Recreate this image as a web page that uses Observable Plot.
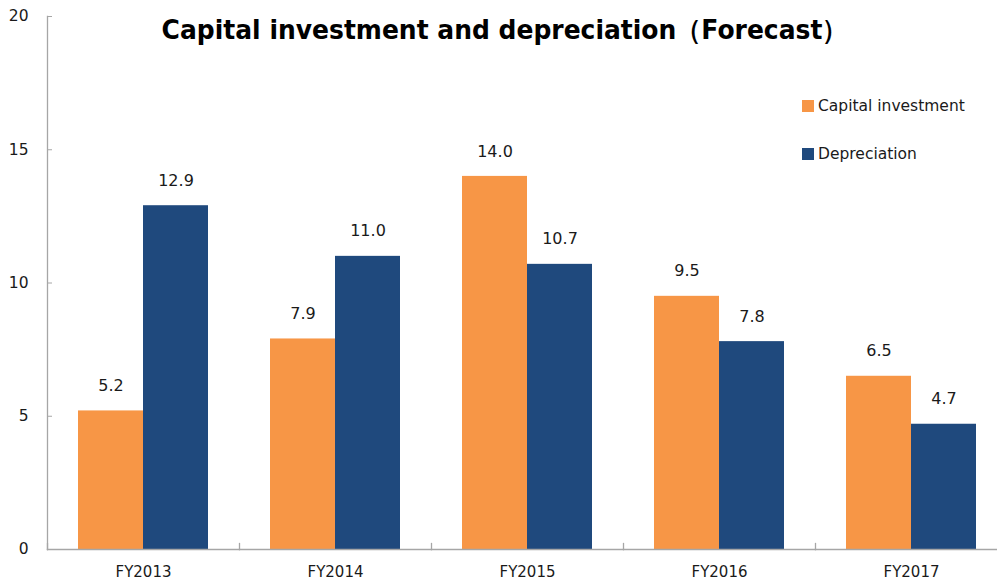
<!DOCTYPE html>
<html>
<head>
<meta charset="utf-8">
<script src="https://cdn.jsdelivr.net/npm/d3@7"></script>
<script src="https://cdn.jsdelivr.net/npm/@observablehq/plot@0.6"></script>
<style>
  html, body { margin: 0; padding: 0; background: #fff; overflow: hidden; }
  #wrap { position: relative; width: 997px; height: 588px; font-family: "DejaVu Sans", sans-serif; }
  #title { position: absolute; left: 6px; width: 997px; top: 13px; text-align: center; font-weight: bold; font-size: 25px; color: #000; white-space: nowrap; transform: scaleY(1.08); }
  .leg { position: absolute; left: 802px; font-size: 15.5px; color: #1a1a1a; display: flex; align-items: center; white-space: nowrap; }
  .sw { width: 12px; height: 12px; margin-right: 4px; }
</style>
</head>
<body>
<div id="wrap">
  <div id="chart"></div>
  <div id="title">Capital investment and depreciation（Forecast）</div>
  <div id="legend"></div>
</div>
<script>
const years = ["FY2013", "FY2014", "FY2015", "FY2016", "FY2017"];
const capitalInvestment = [5.2, 7.9, 14.0, 9.5, 6.5];
const depreciation = [12.9, 11.0, 10.7, 7.8, 4.7];
const seriesNames = ["Capital investment", "Depreciation"];
const seriesColors = ["#F79646", "#1F497D"];
const yTicks = [0, 5, 10, 15, 20];

const rows = [];
years.forEach((y, i) => {
  rows.push({year: y, series: seriesNames[0], value: capitalInvestment[i]});
  rows.push({year: y, series: seriesNames[1], value: depreciation[i]});
});

const W = 997, H = 588, mTop = 16, mBottom = 39;
const axisColor = "#a6a6a6";

const chart = Plot.plot({
  width: W,
  height: H,
  marginTop: mTop,
  marginBottom: mBottom,
  marginLeft: 47,
  marginRight: -10,
  style: {fontFamily: "DejaVu Sans, sans-serif", fontSize: "15px", color: "#1a1a1a", background: "white"},
  fx: {domain: years, padding: 0, label: null},
  x: {domain: seriesNames, paddingInner: 0, paddingOuter: 0.477, round: false, axis: null},
  y: {domain: [0, 20], ticks: yTicks, label: null},
  color: {domain: seriesNames, range: seriesColors},
  marks: [
    Plot.barY(rows, {fx: "year", x: "series", y: "value", fill: "series"}),
    Plot.text(rows, {fx: "year", x: "series", y: "value", text: d => d.value.toFixed(1), dy: -25, fontSize: 16, fill: "#1a1a1a"}),
    Plot.frame({anchor: "left", facetAnchor: "left", stroke: axisColor, strokeWidth: 1.3}),
    Plot.frame({anchor: "left", stroke: axisColor, strokeWidth: 1.3, insetTop: H - mTop - mBottom - 6}),
    Plot.frame({anchor: "bottom", stroke: axisColor, strokeWidth: 1.3}),
    Plot.axisY({ticks: yTicks, tickSize: -5, tickPadding: 24, stroke: axisColor, fontSize: 15.5, fill: "#1a1a1a"}),
    Plot.axisFx({anchor: "bottom", tickSize: 0, tickPadding: 17, fontSize: 15, fill: "#1a1a1a", label: null})
  ]
});
document.getElementById("chart").appendChild(chart);

const legend = document.getElementById("legend");
const legendTops = [97, 145];
seriesNames.forEach((name, i) => {
  const div = document.createElement("div");
  div.className = "leg";
  div.style.top = legendTops[i] + "px";
  const sw = document.createElement("div");
  sw.className = "sw";
  sw.style.background = seriesColors[i];
  const t = document.createElement("span");
  t.textContent = name;
  div.appendChild(sw);
  div.appendChild(t);
  legend.appendChild(div);
});
</script>
</body>
</html>
